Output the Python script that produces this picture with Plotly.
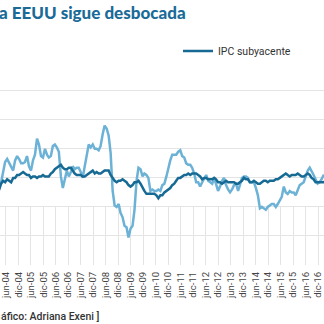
import pandas as pd
import plotly.graph_objects as go

# Monthly CPI year-over-year change (%), Jan 2004 - Oct 2017
months = pd.date_range("2004-01-01", "2017-10-01", freq="MS")

ipc_general = [
    1.9, 1.7, 1.7, 2.3, 3.1, 3.3, 3.0, 2.7, 2.5, 3.2, 3.5, 3.3,
    3.0, 3.0, 3.1, 3.5, 2.8, 2.5, 3.2, 3.6, 4.7, 4.3, 3.5, 3.4,
    4.0, 3.6, 3.4, 3.5, 4.2, 4.3, 4.1, 3.8, 2.1, 1.3, 2.0, 2.5,
    2.1, 2.4, 2.8, 2.6, 2.7, 2.7, 2.4, 2.0, 2.8, 3.5, 4.3, 4.1,
    4.3, 4.0, 4.0, 3.9, 4.2, 5.0, 5.6, 5.4, 4.9, 3.7, 1.1, 0.1,
    0.0, 0.2, -0.4, -0.7, -1.3, -1.4, -2.1, -1.5, -1.3, -0.2, 1.8, 2.7,
    2.6, 2.1, 2.3, 2.2, 2.0, 1.1, 1.2, 1.1, 1.1, 1.2, 1.1, 1.5,
    1.6, 2.1, 2.7, 3.2, 3.6, 3.6, 3.6, 3.8, 3.9, 3.5, 3.4, 3.0,
    2.9, 2.9, 2.7, 2.3, 1.7, 1.7, 1.4, 1.7, 2.0, 2.2, 1.8, 1.7,
    1.6, 2.0, 1.5, 1.1, 1.4, 1.8, 2.0, 1.5, 1.2, 1.0, 1.2, 1.5,
    1.6, 1.1, 1.5, 2.0, 2.1, 2.1, 2.0, 1.7, 1.7, 1.7, 1.3, 0.8,
    -0.1, 0.0, -0.1, -0.2, 0.0, 0.1, 0.2, 0.2, 0.0, 0.2, 0.5, 0.7,
    1.4, 1.0, 0.9, 1.1, 1.0, 1.0, 0.8, 1.1, 1.5, 1.6, 1.7, 2.1,
    2.5, 2.7, 2.4, 2.2, 1.9, 1.6, 1.7, 1.9, 2.2, 2.0,
]

ipc_subyacente = [
    1.1, 1.2, 1.6, 1.8, 1.7, 1.9, 1.8, 1.7, 2.0, 2.0, 2.2, 2.2,
    2.3, 2.4, 2.3, 2.2, 2.2, 2.0, 2.1, 2.1, 2.0, 2.1, 2.1, 2.2,
    2.1, 2.1, 2.1, 2.3, 2.4, 2.6, 2.7, 2.8, 2.9, 2.7, 2.6, 2.6,
    2.7, 2.7, 2.5, 2.3, 2.2, 2.2, 2.2, 2.1, 2.1, 2.2, 2.3, 2.4,
    2.5, 2.3, 2.4, 2.3, 2.3, 2.4, 2.5, 2.5, 2.5, 2.2, 2.0, 1.8,
    1.7, 1.8, 1.8, 1.9, 1.8, 1.7, 1.5, 1.4, 1.5, 1.7, 1.7, 1.8,
    1.6, 1.3, 1.1, 0.9, 0.9, 0.9, 0.9, 0.9, 0.8, 0.6, 0.8, 0.8,
    1.0, 1.1, 1.2, 1.3, 1.5, 1.6, 1.8, 2.0, 2.0, 2.1, 2.2, 2.2,
    2.3, 2.2, 2.3, 2.3, 2.3, 2.2, 2.1, 1.9, 2.0, 2.0, 1.9, 1.9,
    1.9, 2.0, 1.9, 1.7, 1.7, 1.6, 1.7, 1.8, 1.7, 1.7, 1.7, 1.7,
    1.6, 1.6, 1.7, 1.8, 2.0, 1.9, 1.9, 1.7, 1.7, 1.8, 1.7, 1.6,
    1.6, 1.7, 1.8, 1.8, 1.7, 1.8, 1.8, 1.8, 1.9, 1.9, 2.0, 2.1,
    2.2, 2.3, 2.2, 2.1, 2.2, 2.2, 2.2, 2.3, 2.2, 2.1, 2.1, 2.2,
    2.3, 2.2, 2.0, 1.9, 1.7, 1.7, 1.7, 1.7, 1.7, 1.8,
]

# Half-year labels along the bottom band
etiquetas = [f"{m}-{a:02d}" for a in range(4, 17) for m in ("jun", "dic")]

COLOR_GENERAL = "#6cb2d6"
COLOR_SUBYACENTE = "#176a94"
COLOR_TITULO = "#1b6b98"
GRID = "#e4e4e4"
NARROW = "Roboto, sans-serif"

fig = go.Figure()

# Label band (x / y): carries the half-year labels and their short gridlines
fig.add_trace(go.Scatter(
    x=list(range(len(etiquetas))), y=[0.5] * len(etiquetas),
    xaxis="x", yaxis="y", mode="markers",
    marker=dict(opacity=0), showlegend=False, hoverinfo="skip",
))

# Data panel (x2 / y2), drawn above the label band
fig.add_trace(go.Scatter(
    x=months, y=ipc_general, mode="lines", name="IPC general",
    xaxis="x2", yaxis="y2",
    line=dict(color=COLOR_GENERAL, width=2.5), showlegend=False,
))
fig.add_trace(go.Scatter(
    x=months, y=ipc_subyacente, mode="lines", name="IPC subyacente",
    xaxis="x2", yaxis="y2",
    line=dict(color=COLOR_SUBYACENTE, width=2.5), showlegend=True,
))

fig.update_layout(
    width=324, height=324,
    margin=dict(l=0, r=0, t=61, b=59, pad=0, autoexpand=False),
    paper_bgcolor="white", plot_bgcolor="rgba(0,0,0,0)",
    xaxis=dict(
        anchor="y", range=[-0.48, len(etiquetas) - 1 + 0.48],
        tickvals=list(range(len(etiquetas))), ticktext=etiquetas,
        tickangle=-90, ticks="", showgrid=True, gridcolor=GRID, gridwidth=1,
        zeroline=False, showline=False, automargin=False,
        ticklabelstandoff=4,
        tickfont=dict(family=NARROW, size=9.5, color="#444444"),
    ),
    yaxis=dict(
        domain=[0, 0.284], range=[0, 1], anchor="x", automargin=False,
        showgrid=False, zeroline=False, showticklabels=False, ticks="",
        showline=False,
    ),
    xaxis2=dict(
        type="date", range=["2004-02-13", "2017-09-07"], anchor="y2",
        showgrid=False, zeroline=False, showticklabels=False, ticks="",
        showline=False, automargin=False,
    ),
    yaxis2=dict(
        domain=[0, 1], anchor="x2", automargin=False,
        range=[-4, 10.05], tickvals=[-2, 0, 2, 4, 6, 8, 10],
        showgrid=True, gridcolor=GRID, gridwidth=1,
        zeroline=False, showticklabels=False, ticks="", showline=False,
    ),
    legend=dict(
        x=178 / 324, y=(265 - 51) / 204, xanchor="left", yanchor="middle",
        bgcolor="rgba(0,0,0,0)",
        font=dict(family=NARROW, size=10.5, color="#333333"),
    ),
    annotations=[
        dict(
            text="a EEUU sigue desbocada", xref="paper", yref="paper",
            x=-3 / 324, y=(265 - 13) / 204, xanchor="left", yanchor="middle",
            showarrow=False,
            font=dict(family="Lato, sans-serif", size=17, color=COLOR_TITULO,
                      weight=900),
        ),
        dict(
            text="áfico: Adriana Exeni ]", xref="paper", yref="paper",
            x=-1 / 324, y=(265 - 316) / 204, xanchor="left", yanchor="middle",
            showarrow=False,
            font=dict(family=NARROW, size=10.5, color="#333333", weight=500),
        ),
    ],
)

fig.write_html("out.html")
